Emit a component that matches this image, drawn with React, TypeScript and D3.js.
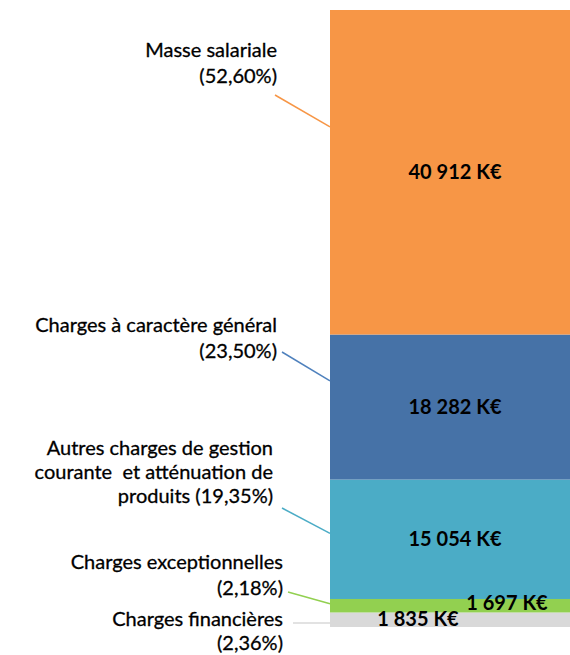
import React from "react";
import * as d3 from "d3";

// ---- Data (bottom to top) ----
const categories = [
  "Charges financières",
  "Charges exceptionnelles",
  "Autres charges de gestion courante  et atténuation de produits",
  "Charges à caractère général",
  "Masse salariale",
];
const values = [1835, 1697, 15054, 18282, 40912];
const percents = ["2,36%", "2,18%", "19,35%", "23,50%", "52,60%"];
const valueLabels = ["1 835 K€", "1 697 K€", "15 054 K€", "18 282 K€", "40 912 K€"];
const labelLines = [
  ["Charges financières", "(2,36%)"],
  ["Charges exceptionnelles", "(2,18%)"],
  ["Autres charges de gestion", "courante  et atténuation de", "produits (19,35%)"],
  ["Charges à caractère général", "(23,50%)"],
  ["Masse salariale", "(52,60%)"],
];

// ---- Styles / layout ----
const W = 570;
const H = 655;
const colors = ["#D9D9D9", "#92D050", "#4BACC6", "#4672A7", "#F79646"];
const lineColors = ["#D9D9D9", "#92D050", "#4BACC6", "#4F81BD", "#F79646"];
const barX0 = 330;
const barX1 = 580;
const barTop = 10;
const barBottom = 627;

// label block layout: right x, first baseline, line step; leader start point; leader end fraction within segment (from top)
const labelLayout = [
  { x: 283, y: 626, step: 24, lx: 293, ly: 623, endFrac: 0.72 },
  { x: 283, y: 569, step: 26, lx: 288, ly: 592, endFrac: 0.35 },
  { x: 273, y: 455, step: 24, lx: 282, ly: 508, endFrac: 0.45 },
  { x: 277, y: 332, step: 26, lx: 282, ly: 352, endFrac: 0.32 },
  { x: 277, y: 57, step: 26, lx: 275, ly: 95, endFrac: 0.36 },
];
// value label offsets (dx from bar centre, dy from segment centre)
const valueOffsets = [
  { dx: -37, dy: 6 },
  { dx: 52, dy: 4 },
  { dx: 0, dy: 7 },
  { dx: 0, dy: 7 },
  { dx: 0, dy: 7 },
];

const FONT = "Lato, 'Open Sans', sans-serif";

export default function App() {
  const total = d3.sum(values);
  const y = d3.scaleLinear().domain([0, total]).range([barBottom, barTop]);
  const stackData = values.map((v, i) => {
    const start = d3.sum(values.slice(0, i));
    return { i, v, y0: y(start), y1: y(start + v) };
  });
  const cx = (barX0 + barX1) / 2;

  return (
    <svg
      width={W}
      height={H}
      style={{ position: "absolute", left: 0, top: 0, background: "#fff" }}
      fontFamily={FONT}
    >
      {stackData.map((d) => (
        <rect
          key={"r" + d.i}
          x={barX0}
          y={d.y1}
          width={barX1 - barX0}
          height={d.y0 - d.y1}
          fill={colors[d.i]}
        />
      ))}
      {stackData.map((d) => {
        const L = labelLayout[d.i];
        const ey = d.y1 + (d.y0 - d.y1) * L.endFrac;
        return (
          <line
            key={"l" + d.i}
            x1={L.lx}
            y1={L.ly}
            x2={barX0}
            y2={ey}
            stroke={lineColors[d.i]}
            strokeWidth={1.5}
          />
        );
      })}
      {stackData.map((d) => {
        const L = labelLayout[d.i];
        return (
          <text
            key={"t" + d.i}
            textAnchor="end"
            fontSize={20}
            fill="#000"
            stroke="#000"
            strokeWidth={0.3}
            style={{ whiteSpace: "pre" }}
          >
            {labelLines[d.i].map((ln, j) => (
              <tspan key={j} x={L.x} y={L.y + j * L.step}>
                {ln}
              </tspan>
            ))}
          </text>
        );
      })}
      {stackData.map((d) => {
        const o = valueOffsets[d.i];
        return (
          <text
            key={"v" + d.i}
            x={cx + o.dx}
            y={(d.y0 + d.y1) / 2 + o.dy}
            textAnchor="middle"
            fontSize={20}
            fontWeight="bold"
            fill="#000"
          >
            {valueLabels[d.i]}
          </text>
        );
      })}
    </svg>
  );
}
